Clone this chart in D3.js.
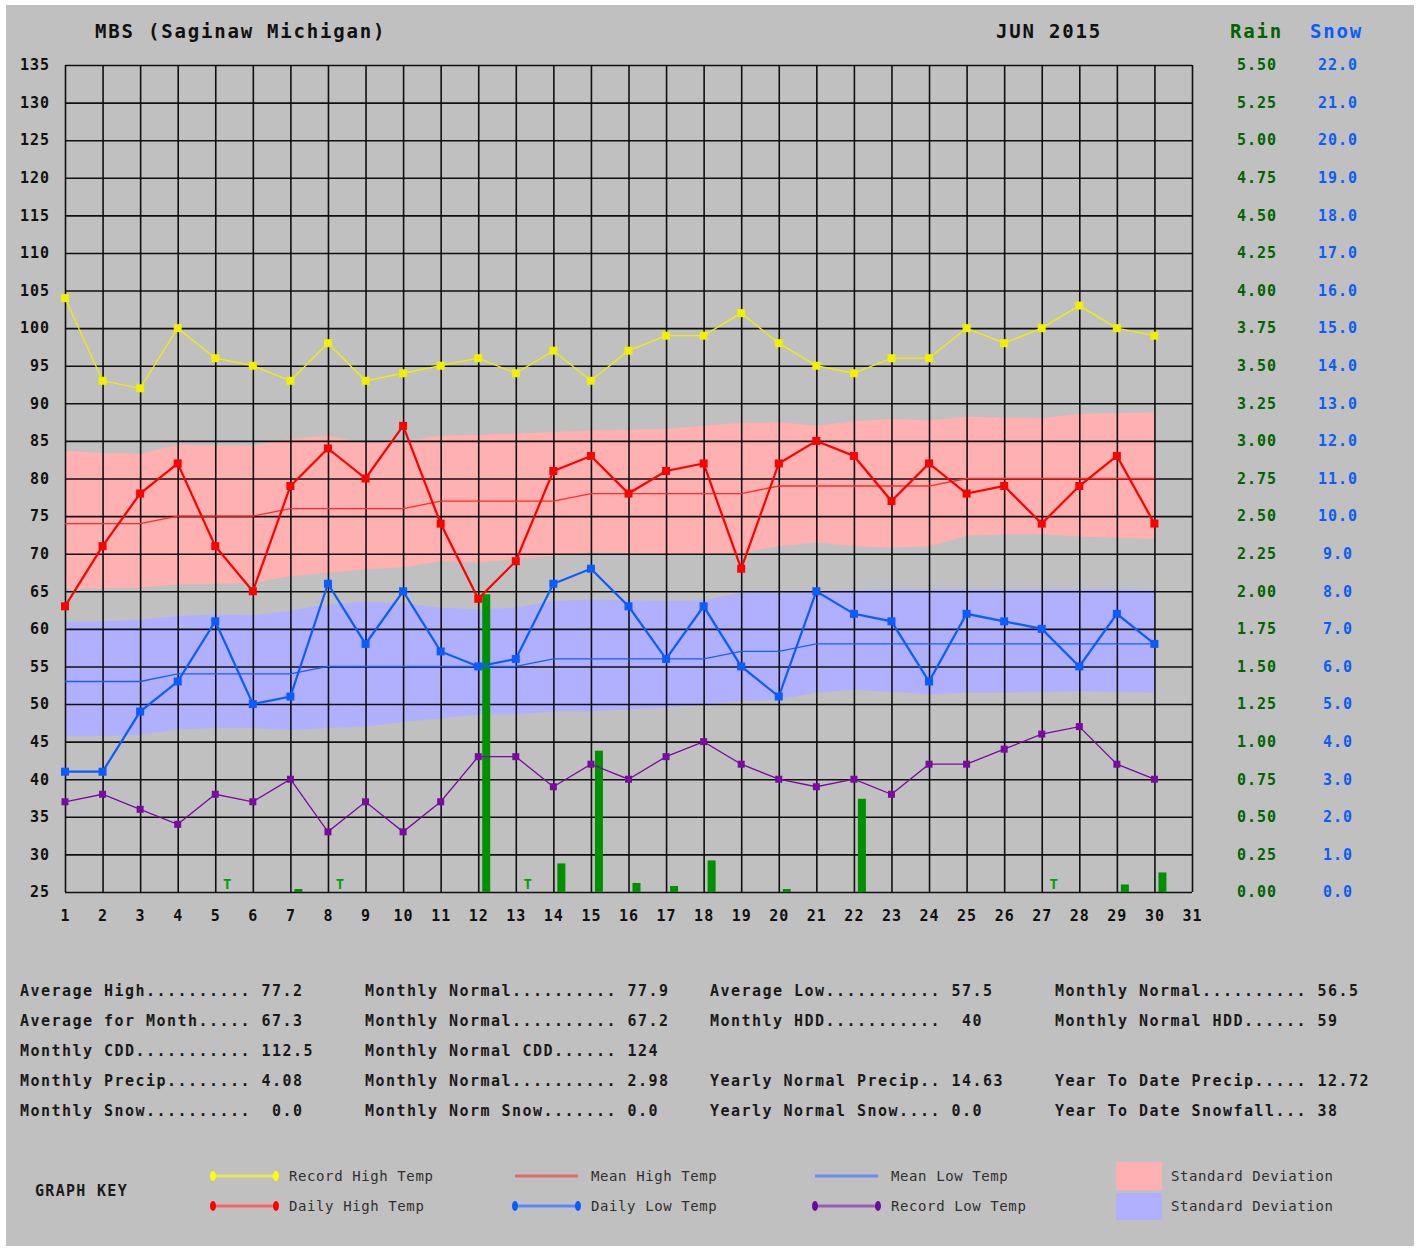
<!DOCTYPE html>
<html><head><meta charset="utf-8">
<script src="https://cdn.jsdelivr.net/npm/d3@7"></script>
<style>
body{margin:0;background:#fff;}
svg{display:block;}
text{white-space:pre;}
</style>
</head><body>
<svg id="c" width="1420" height="1248"></svg>
<script>
// ---------- DATA ----------
const days = [1,2,3,4,5,6,7,8,9,10,11,12,13,14,15,16,17,18,19,20,21,22,23,24,25,26,27,28,29,30];
const dayTicks = [1,2,3,4,5,6,7,8,9,10,11,12,13,14,15,16,17,18,19,20,21,22,23,24,25,26,27,28,29,30,31];
const tempTicks = [25,30,35,40,45,50,55,60,65,70,75,80,85,90,95,100,105,110,115,120,125,130,135];
const rainTicks = [0,0.25,0.5,0.75,1,1.25,1.5,1.75,2,2.25,2.5,2.75,3,3.25,3.5,3.75,4,4.25,4.5,4.75,5,5.25,5.5];
const snowTicks = [0,1,2,3,4,5,6,7,8,9,10,11,12,13,14,15,16,17,18,19,20,21,22];

const recordHigh = [104,93,92,100,96,95,93,98,93,94,95,96,94,97,93,97,99,99,102,98,95,94,96,96,100,98,100,103,100,99];
const dailyHigh  = [63,71,78,82,71,65,79,84,80,87,74,64,69,81,83,78,81,82,68,82,85,83,77,82,78,79,74,79,83,74];
const meanHigh   = [74,74,74,75,75,75,76,76,76,76,77,77,77,77,78,78,78,78,78,79,79,79,79,79,80,80,80,80,80,80];
const dailyLow   = [41,41,49,53,61,50,51,66,58,65,57,55,56,66,68,63,56,63,55,51,65,62,61,53,62,61,60,55,62,58];
const meanLow    = [53,53,53,54,54,54,54,55,55,55,55,55,55,56,56,56,56,56,57,57,58,58,58,58,58,58,58,58,58,58];
const recordLow  = [37,38,36,34,38,37,40,33,37,33,37,43,43,39,42,40,43,45,42,40,39,40,38,42,42,44,46,47,42,40];

const highSdUpper = [83.7,83.4,83.3,84.5,84.4,84.4,85.3,85.7,84.7,85.0,85.7,85.8,86.0,86.2,86.4,86.5,86.6,87.0,87.4,87.5,87.0,87.6,87.9,87.7,88.2,88.1,88.0,88.6,88.7,88.8];
const highSdLower = [65.3,65.4,65.5,65.9,66.0,66.1,67.0,67.5,67.9,68.2,69.0,68.8,69.3,69.7,70.2,70.1,70.0,69.8,70.1,71.0,71.5,71.0,70.8,71.0,72.4,72.6,72.6,72.3,72.1,72.0];
const lowSdUpper  = [60.9,61.0,61.2,61.7,61.9,61.8,62.4,63.3,63.6,63.4,62.8,62.6,62.8,63.7,63.9,63.8,63.7,63.8,64.8,65.0,65.0,65.2,65.3,65.3,65.3,65.3,65.3,65.3,65.3,65.2];
const lowSdLower  = [45.7,45.7,45.9,46.6,46.8,46.8,46.5,46.8,47.0,47.6,48.1,48.6,48.6,49.0,49.0,49.3,49.5,49.9,50.4,50.6,51.5,51.9,51.6,51.3,51.5,51.5,51.6,51.7,51.6,51.5];

const precip = [0,0,0,0,0,0,0.02,0,0,0,0,1.98,0,0.19,0.94,0.06,0.04,0.21,0,0.02,0,0.62,0,0,0,0,0,0,0.05,0.13];
const traceDays = [5,8,13,27];

const titleText = "MBS (Saginaw Michigan)";
const monthText = "JUN 2015";

const statsCol1 = ["Average High.......... 77.2","Average for Month..... 67.3","Monthly CDD........... 112.5","Monthly Precip........ 4.08","Monthly Snow..........  0.0"];
const statsCol2 = ["Monthly Normal.......... 77.9","Monthly Normal.......... 67.2","Monthly Normal CDD...... 124","Monthly Normal.......... 2.98","Monthly Norm Snow....... 0.0"];
const statsCol3 = ["Average Low........... 57.5","Monthly HDD...........  40","","Yearly Normal Precip.. 14.63","Yearly Normal Snow.... 0.0"];
const statsCol4 = ["Monthly Normal.......... 56.5","Monthly Normal HDD...... 59","","Year To Date Precip..... 12.72","Year To Date Snowfall... 38"];

// ---------- DRAW ----------
const svg = d3.select("#c");
const mono = "'DejaVu Sans Mono', 'Liberation Mono', monospace";

svg.append("rect").attr("x",6).attr("y",5).attr("width",1408).attr("height",1241).attr("fill","#c0c0c0");

const x = d3.scaleLinear().domain([1,31]).range([65,1192]);
const y = d3.scaleLinear().domain([25,135]).range([892,65]);
const yRain = d3.scaleLinear().domain([0,5.5]).range([892,65]);
const ySnow = d3.scaleLinear().domain([0,22]).range([892,65]);

const idx = days.map((d,i)=>i);

// std dev bands
const bandArea = (up, lo) => d3.area().x(i=>x(days[i])).y0(i=>y(lo[i])).y1(i=>y(up[i]));
svg.append("path").attr("d", bandArea(highSdUpper, highSdLower)(idx)).attr("fill","#ffb0b0");
svg.append("path").attr("d", bandArea(lowSdUpper, lowSdLower)(idx)).attr("fill","#b0b0ff");

// grid via axes
const gLeft = svg.append("g").attr("transform","translate(65,0)")
  .call(d3.axisLeft(y).tickValues(tempTicks).tickSize(-(1192-65)).tickPadding(15).tickFormat(d3.format("d")));
const gBottom = svg.append("g").attr("transform","translate(0,892)")
  .call(d3.axisBottom(x).tickValues(dayTicks).tickSize(-(892-65)).tickPadding(18).tickFormat(d3.format("d")));
[gLeft,gBottom].forEach(g=>{
  g.select(".domain").remove();
  g.selectAll(".tick line").attr("stroke","#101010").attr("stroke-width",1.6);
  g.selectAll("text").attr("font-family",mono).attr("font-weight","bold").attr("font-size",15)
    .attr("letter-spacing","1px").attr("fill","#111");
});
gBottom.selectAll("text").attr("y",29).attr("dy","0");

const gRain = svg.append("g").attr("transform","translate(1192,0)")
  .call(d3.axisRight(yRain).tickValues(rainTicks).tickSize(0).tickPadding(0).tickFormat(d3.format(".2f")));
const gSnow = svg.append("g").attr("transform","translate(1192,0)")
  .call(d3.axisRight(ySnow).tickValues(snowTicks).tickSize(0).tickPadding(0).tickFormat(d3.format(".1f")));
gRain.select(".domain").remove(); gSnow.select(".domain").remove();
gRain.selectAll("text").attr("x",65).attr("text-anchor","middle").attr("fill","#006400");
gSnow.selectAll("text").attr("x",146).attr("text-anchor","middle").attr("fill","#0a5cff");
[gRain,gSnow].forEach(g=>g.selectAll("text").attr("font-family",mono).attr("font-weight","bold")
  .attr("font-size",15).attr("letter-spacing","1px"));

// precip bars
svg.append("g").selectAll("rect").data(idx.filter(i=>precip[i]>0)).join("rect")
  .attr("x", i=>x(days[i])+4).attr("width",8)
  .attr("y", i=>yRain(precip[i])).attr("height", i=>yRain(0)-yRain(precip[i]))
  .attr("fill","#009000");
svg.append("g").selectAll("text").data(traceDays).join("text")
  .attr("x", d=>x(d)+12).attr("y", y(25)-3).attr("text-anchor","middle")
  .attr("font-family",mono).attr("font-weight","bold").attr("font-size",14).attr("fill","#00a000").text("T");

// lines
function series(vals, color, width, msize){
  const line = d3.line().x(i=>x(days[i])).y(i=>y(vals[i]));
  svg.append("path").attr("d", line(idx)).attr("fill","none").attr("stroke",color).attr("stroke-width",width);
  if(msize){
    svg.append("g").selectAll("rect").data(idx).join("rect")
      .attr("x", i=>x(days[i])-msize/2).attr("y", i=>y(vals[i])-msize/2)
      .attr("width",msize).attr("height",msize).attr("fill",color);
  }
}
series(meanHigh, "#ff2a2a", 1.3, 0);
series(meanLow, "#1a5cff", 1.3, 0);
series(recordHigh, "#f0f000", 1.3, 8);
series(recordLow, "#7a0aa0", 1.3, 7);
series(dailyHigh, "#ff0000", 2.2, 8);
series(dailyLow, "#0a5cff", 2.2, 8);

// titles
const titleFont = g => g.attr("font-family",mono).attr("font-weight","bold").attr("font-size",19).attr("letter-spacing","1.8px");
svg.append("text").attr("x",95).attr("y",38).text(titleText).attr("fill","#111").call(titleFont);
svg.append("text").attr("x",996).attr("y",38).text(monthText).attr("fill","#111").call(titleFont);
svg.append("text").attr("x",1230).attr("y",38).text("Rain").attr("fill","#006400").call(titleFont);
svg.append("text").attr("x",1310).attr("y",38).text("Snow").attr("fill","#0a5cff").call(titleFont);

// stats
const statY = [991,1021,1051,1081,1111];
[[statsCol1,20],[statsCol2,365],[statsCol3,710],[statsCol4,1055]].forEach(([col,cx])=>{
  svg.append("g").selectAll("text").data(col).join("text")
    .attr("x",cx).attr("y",(d,i)=>statY[i]+5).text(d=>d)
    .attr("font-family",mono).attr("font-weight","bold").attr("font-size",15)
    .attr("letter-spacing","1.47px").attr("fill","#1a1a1a");
});

// legend
svg.append("text").attr("x",35).attr("y",1196).text("GRAPH KEY")
  .attr("font-family",mono).attr("font-weight","bold").attr("font-size",15).attr("letter-spacing","1.3px").attr("fill","#1a1a1a");
const legendItems = [
  {x:213, y:1176, line:"#e8e860", mark:"#ffff00", label:"Record High Temp"},
  {x:213, y:1206, line:"#ff6060", mark:"#ff0000", label:"Daily High Temp"},
  {x:515, y:1176, line:"#e06a6a", mark:null, label:"Mean High Temp"},
  {x:515, y:1206, line:"#5a88ff", mark:"#0a5cff", label:"Daily Low Temp"},
  {x:815, y:1176, line:"#6a8cf0", mark:null, label:"Mean Low Temp"},
  {x:815, y:1206, line:"#9a5cb8", mark:"#6a0aa0", label:"Record Low Temp"}
];
const lg = svg.append("g");
legendItems.forEach(it=>{
  lg.append("line").attr("x1",it.x).attr("x2",it.x+63).attr("y1",it.y).attr("y2",it.y)
    .attr("stroke",it.line).attr("stroke-width",3);
  if(it.mark){
    [it.x, it.x+63].forEach(mx=>lg.append("ellipse").attr("cx",mx).attr("cy",it.y).attr("rx",3).attr("ry",5).attr("fill",it.mark));
  }
  lg.append("text").attr("x",it.x+76).attr("y",it.y+5).text(it.label)
    .attr("font-family",mono).attr("font-size",14).attr("letter-spacing","0.6px").attr("fill","#303030");
});
lg.append("rect").attr("x",1116).attr("y",1162).attr("width",46).attr("height",28).attr("fill","#ffb0b0");
lg.append("rect").attr("x",1116).attr("y",1193).attr("width",46).attr("height",27).attr("fill","#b0b0ff");
lg.append("text").attr("x",1171).attr("y",1181).text("Standard Deviation")
  .attr("font-family",mono).attr("font-size",14).attr("letter-spacing","0.6px").attr("fill","#303030");
lg.append("text").attr("x",1171).attr("y",1211).text("Standard Deviation")
  .attr("font-family",mono).attr("font-size",14).attr("letter-spacing","0.6px").attr("fill","#303030");
</script>
</body></html>
